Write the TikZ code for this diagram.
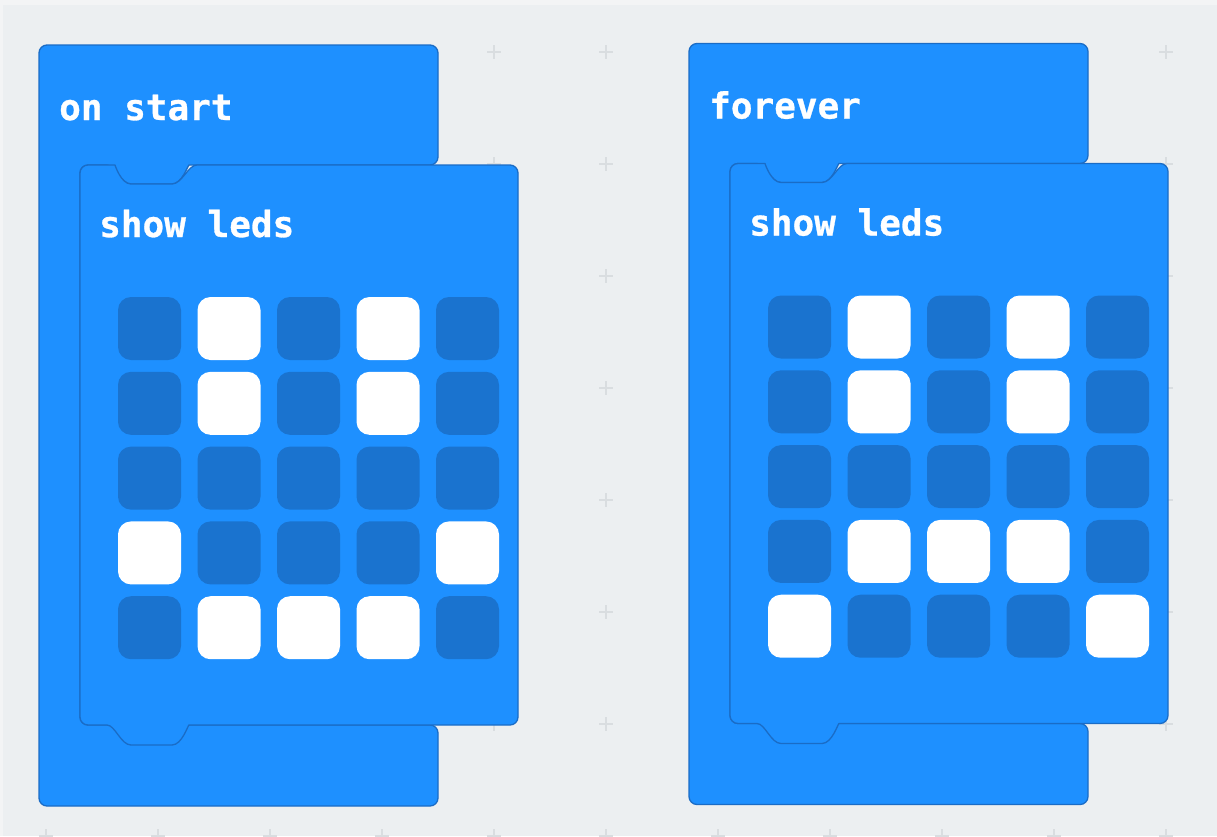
\documentclass[tikz,border=0pt]{standalone}
\usepackage{fontspec}
\newfontfamily\blockfont{DejaVu Sans Mono}[BoldFont={DejaVu Sans Mono Bold},BoldFeatures={FakeBold=0.8}]
\definecolor{canvas}{HTML}{ECEFF1}
\definecolor{canvasedge}{HTML}{F3F4F5}
\definecolor{gridmark}{HTML}{D9DDE0}
\definecolor{blockblue}{HTML}{1E90FF}
\definecolor{blockline}{HTML}{1A6CC6}
\definecolor{ledoff}{HTML}{1A73CF}

\tikzset{
  blockshape/.style={fill=blockblue, draw=blockline, line width=1.3pt, line join=round},
  blocklabel/.style={anchor=base west, inner sep=0pt, text=white,
    font=\blockfont\bfseries\fontsize{36}{40}\selectfont},
  ledcell/.style={rectangle, rounded corners=13pt, minimum width=63pt,
    minimum height=63pt, inner sep=0pt},
  ledlit/.style={ledcell, fill=white},
  leddark/.style={ledcell, fill=ledoff},
  plusmark/.style={draw=gridmark, line width=1.1pt},
}

% One hat block wrapping a "show leds" block; #1 name prefix, #2 title, #3 LED rows
\newcommand{\ledstack}[3]{%
  % outer C-shaped hat block, with the tab that sits in the inner block's notch
  \path[blockshape] (39,100) [rounded corners=8pt] -- (39,45) -- (438,45)
    -- (438,165) -- (197,165)
    [sharp corners] .. controls (188,165) and (182,184) .. (172,184)
    -- (131,184) .. controls (121,184) and (115,165) .. (107,165)
    [rounded corners=8pt] -- (80,165) -- (80,725) -- (438,725) -- (438,806)
    -- (39,806) -- cycle;
  % inner statement block with notch on top and tab underneath
  \path[blockshape] (80,400) [rounded corners=8pt] -- (80,165) -- (107,165)
    [sharp corners] .. controls (115,165) and (121,184) .. (131,184)
    -- (172,184) .. controls (182,184) and (188,165) .. (197,165)
    [rounded corners=8pt] -- (518,165) -- (518,725) -- (197,725)
    [sharp corners] .. controls (188,725) and (182,745) .. (172,745)
    -- (131,745) .. controls (121,745) and (115,725) .. (107,725)
    [rounded corners=8pt] -- (80,725) -- cycle;
  \node[blocklabel] (#1-title) at (59,120) {#2};
  \node[blocklabel] (#1-show) at (99,237) {show leds};
  \foreach \ledrow [count=\r from 0] in {#3} {
    \foreach \v [count=\c from 0] in \ledrow {
      \ifnum\v=1
        \node[ledlit] (#1-led-\r-\c) at ({149.5+79.5*\c},{328.5+74.8*\r}) {};
      \else
        \node[leddark] (#1-led-\r-\c) at ({149.5+79.5*\c},{328.5+74.8*\r}) {};
      \fi
    }
  }
}

\begin{document}
\begin{tikzpicture}[x=1pt, y=-1pt]
  \useasboundingbox (0,0) rectangle (1217,836);
  % workspace background
  \fill[canvasedge] (0,0) rectangle (1217,836);
  \fill[canvas] (3,5) rectangle (1217,836);
  % workspace grid crosses
  \foreach \gx in {0,...,10} {
    \foreach \gy in {0,...,7} {
      \draw[plusmark] ({46+112*\gx-7},{52+112*\gy}) -- ++(14,0);
      \draw[plusmark] ({46+112*\gx},{52+112*\gy-7}) -- ++(0,14);
    }
  }
  % left stack
  \ledstack{start}{on start}{{0,1,0,1,0},{0,1,0,1,0},{0,0,0,0,0},{1,0,0,0,1},{0,1,1,1,0}}
  % right stack
  \begin{scope}[shift={(650,-1.5)}]
    \ledstack{loop}{forever}{{0,1,0,1,0},{0,1,0,1,0},{0,0,0,0,0},{0,1,1,1,0},{1,0,0,0,1}}
  \end{scope}
\end{tikzpicture}
\end{document}
